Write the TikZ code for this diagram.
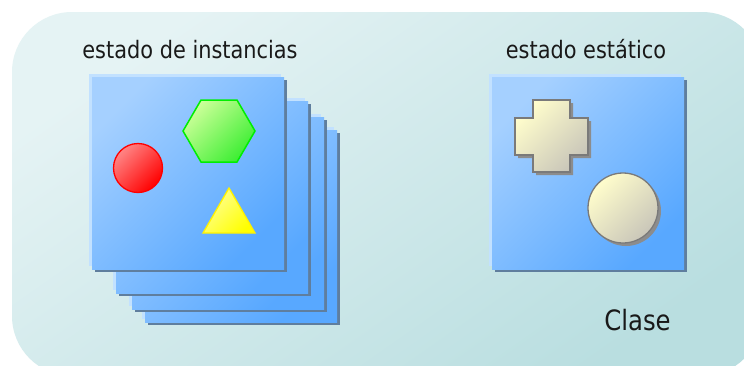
\documentclass[tikz,border=0pt]{standalone}
\usepackage{fontspec}
\setmainfont{DejaVu Sans}[FakeStretch=0.87]
\definecolor{bglight}{HTML}{E5F3F4}
\definecolor{bgdark}{HTML}{B9DEE0}
\definecolor{sqlight}{HTML}{A5D0FF}
\definecolor{sqdark}{HTML}{58A8FF}
\definecolor{sqhi}{HTML}{C2E1FF}
\definecolor{sqshadow}{HTML}{5F7E9E}
\definecolor{redlight}{HTML}{FF8585}
\definecolor{reddark}{HTML}{FF0000}
\definecolor{greenlight}{HTML}{CCFF99}
\definecolor{greendark}{HTML}{3DEE33}
\definecolor{greenline}{HTML}{00EE00}
\definecolor{yellowlight}{HTML}{FFFF99}
\definecolor{yellowdark}{HTML}{FFFF00}
\definecolor{yellowline}{HTML}{FFF200}
\definecolor{creamlight}{HTML}{FFFDCC}
\definecolor{creamdark}{HTML}{C9C6B9}
\definecolor{creamline}{HTML}{7A7A7A}
\definecolor{creamshadow}{HTML}{8C8C8C}
\tikzset{
  sqbody/.style={top color=sqlight,bottom color=sqdark,shading angle=45},
  sqhilite/.style={fill=sqhi},
  sqshade/.style={fill=sqshadow},
  lbl/.style={anchor=base,inner sep=0pt,font=\fontsize{24}{28}\selectfont,text=black!90},
  cream/.style={top color=creamlight,bottom color=creamdark,shading angle=45,draw=creamline,line width=1.3pt},
  creamsh/.style={fill=creamshadow}
}
\newcommand{\mysheet}[2]{%
  \fill[sqshade] (#1+3,#2+3) rectangle (#1+195,#2+195);
  \fill[sqhilite] (#1-3,#2-3) rectangle (#1+189,#2+189);
  \shade[sqbody] (#1,#2) rectangle (#1+192,#2+192);
}
\begin{document}
\begin{tikzpicture}[x=1pt,y=-1pt]
\useasboundingbox (0,0) rectangle (744,365);
\begin{scope}
\clip (0,0) rectangle (744,365);
\fill[white] (0,0) rectangle (744,365);
\shade[top color=bglight,bottom color=bgdark,shading angle=35,rounded corners=60pt] (12,12) rectangle (762,376);
\end{scope}
% stack of instance sheets
\mysheet{145}{130}
\mysheet{132}{117}
\mysheet{116}{101}
\mysheet{92}{77}
% static sheet
\mysheet{492}{77}
% labels
\node[lbl] (inst) at (190,58) {estado de instancias};
\node[lbl] (stat) at (586,58) {estado estático};
\node[lbl,font=\fontsize{28}{32}\selectfont] (clase) at (637.5,330) {Clase};
% red circle
\shade[top color=redlight,bottom color=reddark,shading angle=45,draw=reddark,line width=1.3pt] (138,168) circle (24.5);
% hexagon
\shade[top color=greenlight,bottom color=greendark,shading angle=45,draw=greenline,line width=1.5pt]
  (183,131) -- (201,100) -- (237,100) -- (255,131) -- (237,162) -- (201,162) -- cycle;
% triangle
\shade[top color=yellowlight,bottom color=yellowdark,shading angle=45,draw=yellowline,line width=1.3pt]
  (229,188) -- (255,233) -- (203,233) -- cycle;
% cross shadow
\fill[creamsh] (536,103) -- (573,103) -- (573,121) -- (591,121) -- (591,158) -- (573,158) -- (573,175) -- (536,175) -- (536,158) -- (518,158) -- (518,121) -- (536,121) -- cycle;
% cross
\shade[cream] (533,100) -- (570,100) -- (570,118) -- (588,118) -- (588,155) -- (570,155) -- (570,172) -- (533,172) -- (533,155) -- (515,155) -- (515,118) -- (533,118) -- cycle;
% cream circle
\fill[creamsh] (626,211) circle (35);
\shade[cream] (623,208) circle (35);
\end{tikzpicture}
\end{document}
